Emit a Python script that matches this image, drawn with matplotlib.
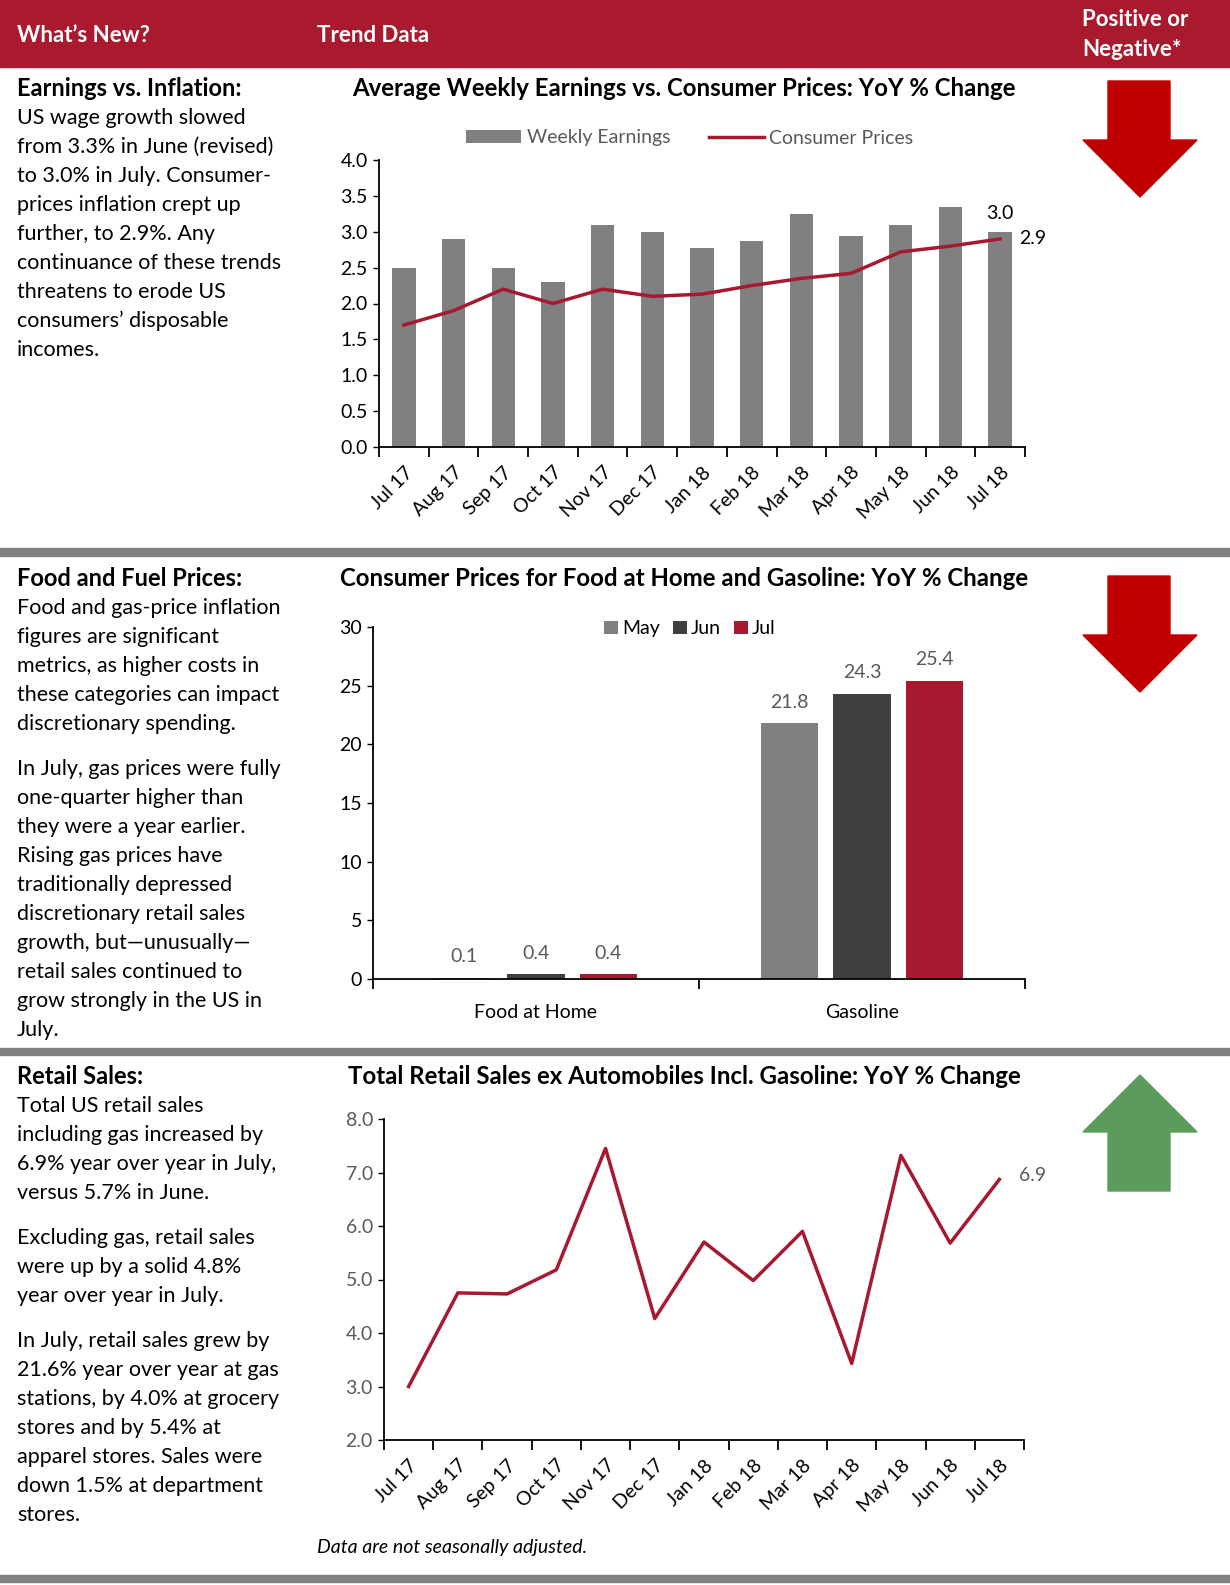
import numpy as np
import matplotlib
matplotlib.use('Agg')
import matplotlib.pyplot as plt
from matplotlib.patches import Rectangle, Polygon
from matplotlib.ticker import FormatStrFormatter

plt.rcParams['font.family'] = ['Lato', 'DejaVu Sans']

W, H = 1230, 1585

# ---- data ----
months = ['Jul 17', 'Aug 17', 'Sep 17', 'Oct 17', 'Nov 17', 'Dec 17', 'Jan 18',
          'Feb 18', 'Mar 18', 'Apr 18', 'May 18', 'Jun 18', 'Jul 18']
weekly_earnings = [2.5, 2.9, 2.5, 2.3, 3.1, 3.0, 2.77, 2.87, 3.25, 2.94, 3.09, 3.34, 3.0]
consumer_prices = [1.7, 1.9, 2.2, 2.0, 2.2, 2.1, 2.13, 2.25, 2.35, 2.42, 2.72, 2.8, 2.9]

price_groups = ['Food at Home', 'Gasoline']
price_months = ['May', 'Jun', 'Jul']
price_may = [0.1, 21.8]
price_jun = [0.4, 24.3]
price_jul = [0.4, 25.4]

retail_sales = [3.0, 4.75, 4.73, 5.18, 7.45, 4.27, 5.7, 4.98, 5.9, 3.43, 7.32, 5.68, 6.87]

HEADER = '#AA1A2E'
RED = '#A6192E'
GRAY = '#808080'
DARK = '#404040'
SEP = '#808080'
TXTGRAY = '#595959'

fig = plt.figure(figsize=(W / 100, H / 100), dpi=100)


def fx(x):
    return x / W


def fy(y):
    return 1 - y / H


def box(l, t, r, b):
    return [fx(l), fy(b), (r - l) / W, (b - t) / H]


def txt(x, y, s, **kw):
    kw.setdefault('fontsize', 15.5)
    kw.setdefault('va', 'center')
    fig.text(fx(x), fy(y), s, **kw)


def band(t, b, color):
    fig.add_artist(Rectangle((0, fy(b)), 1, (b - t) / H, transform=fig.transFigure,
                             color=color, zorder=0))


def arrow(y0, y1, y2, color):
    pts = [(1108, y0), (1170, y0), (1170, y1), (1197, y1), (1140, y2), (1083, y1), (1108, y1)]
    fig.add_artist(Polygon([(fx(a), fy(b)) for a, b in pts], closed=True,
                           transform=fig.transFigure, color=color))


# header band
band(0, 67, HEADER)
txt(17, 35, 'What’s New?', color='white', fontweight='bold', fontsize=16)
txt(317, 35, 'Trend Data', color='white', fontweight='bold', fontsize=16)
txt(1082, 20, 'Positive or', color='white', fontweight='bold', fontsize=16)
txt(1082, 49, 'Negative*', color='white', fontweight='bold', fontsize=16)

# separators
band(548, 556, SEP)
band(1048, 1055, SEP)
band(1575, 1582, SEP)

# arrows
arrow(81, 140, 197, '#C00000')
arrow(576, 635, 692, '#C00000')
arrow(1191, 1132, 1075, '#5B9B5B')

# ---- left column text ----
txt(17, 88, 'Earnings vs. Inflation:', fontweight='bold', fontsize=17)
para1 = ['US wage growth slowed', 'from 3.3% in June (revised)', 'to 3.0% in July. Consumer-',
         'prices inflation crept up', 'further, to 2.9%. Any', 'continuance of these trends',
         'threatens to erode US', 'consumers’ disposable', 'incomes.']
for i, line in enumerate(para1):
    txt(17, 118 + 29 * i, line)

txt(17, 578, 'Food and Fuel Prices:', fontweight='bold', fontsize=17)
para2 = ['Food and gas-price inflation', 'figures are significant', 'metrics, as higher costs in',
         'these categories can impact', 'discretionary spending.']
for i, line in enumerate(para2):
    txt(17, 608 + 29 * i, line)
para3 = ['In July, gas prices were fully', 'one-quarter higher than', 'they were a year earlier.',
         'Rising gas prices have', 'traditionally depressed', 'discretionary retail sales',
         'growth, but—unusually—', 'retail sales continued to', 'grow strongly in the US in', 'July.']
for i, line in enumerate(para3):
    txt(17, 769 + 29 * i, line)

txt(17, 1076, 'Retail Sales:', fontweight='bold', fontsize=17)
para4 = ['Total US retail sales', 'including gas increased by', '6.9% year over year in July,',
         'versus 5.7% in June.']
for i, line in enumerate(para4):
    txt(17, 1106 + 29 * i, line)
para5 = ['Excluding gas, retail sales', 'were up by a solid 4.8%', 'year over year in July.']
for i, line in enumerate(para5):
    txt(17, 1238 + 29 * i, line)
para6 = ['In July, retail sales grew by', '21.6% year over year at gas', 'stations, by 4.0% at grocery',
         'stores and by 5.4% at', 'apparel stores. Sales were', 'down 1.5% at department', 'stores.']
for i, line in enumerate(para6):
    txt(17, 1341 + 29 * i, line)

# chart titles
txt(684, 88, 'Average Weekly Earnings vs. Consumer Prices: YoY % Change',
    fontweight='bold', fontsize=17.3, ha='center')
txt(684, 578, 'Consumer Prices for Food at Home and Gasoline: YoY % Change',
    fontweight='bold', fontsize=17.3, ha='center')
txt(684, 1076, 'Total Retail Sales ex Automobiles Incl. Gasoline: YoY % Change',
    fontweight='bold', fontsize=17.3, ha='center')
txt(317, 1547, 'Data are not seasonally adjusted.', style='italic', fontsize=14)


def style_axes(ax, ytick_color='black'):
    for s in ['top', 'right']:
        ax.spines[s].set_visible(False)
    for s in ['left', 'bottom']:
        ax.spines[s].set_linewidth(1.3)
    ax.tick_params(axis='y', length=4, width=1, labelsize=14, labelcolor=ytick_color, pad=4)
    ax.tick_params(axis='x', which='major', length=0, labelsize=14)
    ax.tick_params(axis='x', which='minor', length=7, width=1.3, direction='out')


# ---- chart 1: earnings vs prices ----
ax1 = fig.add_axes(box(379, 160, 1025, 447))
x = np.arange(len(months))
bars_we = ax1.bar(x, weekly_earnings, width=0.47, color=GRAY, label='Weekly Earnings')
line_cp, = ax1.plot(x, consumer_prices, color=RED, lw=2.5, label='Consumer Prices')
ax1.set_xlim(-0.5, len(months) - 0.5)
ax1.set_ylim(0, 4)
ax1.set_yticks(np.arange(0, 4.01, 0.5))
ax1.yaxis.set_major_formatter(FormatStrFormatter('%.1f'))
ax1.set_xticks(x, months, rotation=45, ha='right', rotation_mode='anchor')
ax1.set_xticks(np.arange(-0.5, len(months), 1), minor=True)
style_axes(ax1)
ax1.tick_params(axis='x', which='major', pad=12)
ax1.annotate(f'{weekly_earnings[-1]:.1f}', (x[-1], weekly_earnings[-1]), xytext=(0, 7),
             textcoords='offset points', ha='center', va='bottom', fontsize=14)
ax1.annotate(f'{consumer_prices[-1]:.1f}', (x[-1], consumer_prices[-1]), xytext=(14, 0),
             textcoords='offset points', ha='left', va='center', fontsize=14)
ax1.legend(handles=[bars_we, line_cp], loc='center', bbox_to_anchor=(fx(690), fy(138)),
           bbox_transform=fig.transFigure, ncol=2, frameon=False, fontsize=14,
           handlelength=2.8, handleheight=0.65, handletextpad=0.3, columnspacing=2.0,
           labelcolor=TXTGRAY)

# ---- chart 2: food and gasoline ----
ax2 = fig.add_axes(box(373, 627, 1025, 979))
g = np.arange(len(price_groups))
series = [(price_may, GRAY), (price_jun, DARK), (price_jul, RED)]
for k, ((vals, col), name) in enumerate(zip(series, price_months)):
    bars = ax2.bar(g + (k - 1) * 0.222, vals, width=0.175, color=col, label=name)
    ax2.bar_label(bars, labels=[f'{v:.1f}' for v in vals], padding=9, fontsize=14, color=TXTGRAY)
ax2.set_xlim(-0.5, len(price_groups) - 0.5)
ax2.set_ylim(0, 30)
ax2.set_yticks(np.arange(0, 31, 5))
ax2.set_xticks(g, price_groups)
ax2.set_xticks(np.arange(-0.5, len(price_groups), 1), minor=True)
style_axes(ax2)
ax2.tick_params(axis='x', which='major', pad=18)
ax2.legend(loc='center', bbox_to_anchor=(fx(690), fy(629)), bbox_transform=fig.transFigure,
           ncol=3, frameon=False, fontsize=14, handlelength=0.7, handleheight=0.7,
           handletextpad=0.2, columnspacing=0.7)

# ---- chart 3: retail sales ----
ax3 = fig.add_axes(box(384, 1119, 1024, 1440))
ax3.plot(x, retail_sales, color=RED, lw=2.5)
ax3.set_xlim(-0.5, len(months) - 0.5)
ax3.set_ylim(2, 8)
ax3.set_yticks(np.arange(2, 8.01, 1))
ax3.yaxis.set_major_formatter(FormatStrFormatter('%.1f'))
ax3.set_xticks(x, months, rotation=45, ha='right', rotation_mode='anchor')
ax3.set_xticks(np.arange(-0.5, len(months), 1), minor=True)
style_axes(ax3, ytick_color=TXTGRAY)
ax3.tick_params(axis='x', which='major', pad=12)
ax3.annotate(f'{retail_sales[-1]:.1f}', (x[-1], retail_sales[-1]), xytext=(14, 3),
             textcoords='offset points', ha='left', va='center', fontsize=14, color=TXTGRAY)

fig.savefig('out.png', dpi=100)
